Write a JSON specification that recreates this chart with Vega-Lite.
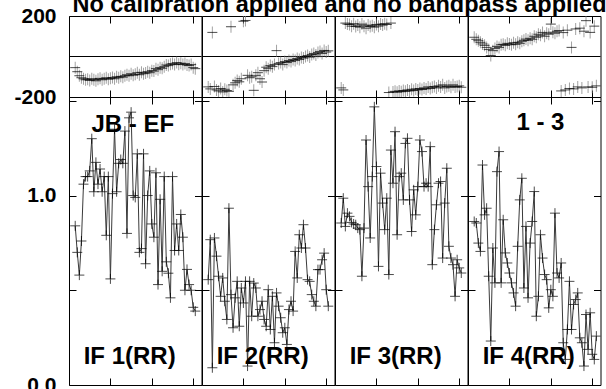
{
"$schema": "https://vega.github.io/schema/vega-lite/v6.json",
"padding": {"left": 0, "top": -7, "right": 0, "bottom": 0},
"title": {"text": "No calibration applied and no bandpass applied", "font": "Liberation Sans", "fontSize": 23.5, "fontWeight": "bold", "color": "black", "anchor": "start", "frame": "bounds", "baseline": "alphabetic", "offset": 0, "dx": 72, "dy": 31},
"config": {
  "view": {"stroke": "black", "strokeWidth": 1},
  "axis": {"grid": false, "domain": false, "labels": false, "ticks": true, "tickSize": -7, "tickColor": "black", "tickWidth": 1, "labelFont": "Liberation Sans", "labelFontSize": 21, "labelFontWeight": "bold", "labelColor": "black", "labelPadding": 20}
},
"datasets": {"vis": [
{"IF":1,"ch":3,"amp":0.84,"ph":-55},{"IF":1,"ch":4,"amp":0.70,"ph":-75},{"IF":1,"ch":5,"amp":0.58,"ph":-95},{"IF":1,"ch":6,"amp":0.76,"ph":-105},{"IF":1,"ch":7,"amp":1.06,"ph":-110},{"IF":1,"ch":8,"amp":1.10,"ph":-115},{"IF":1,"ch":9,"amp":1.10,"ph":-112},{"IF":1,"ch":10,"amp":1.13,"ph":-118},{"IF":1,"ch":11,"amp":1.30,"ph":-110},{"IF":1,"ch":12,"amp":1.02,"ph":-115},{"IF":1,"ch":13,"amp":1.175,"ph":-120},{"IF":1,"ch":14,"amp":1.06,"ph":-112},{"IF":1,"ch":15,"amp":1.14,"ph":-108},{"IF":1,"ch":16,"amp":1.02,"ph":-115},{"IF":1,"ch":17,"amp":1.10,"ph":-110},{"IF":1,"ch":18,"amp":0.79,"ph":-105},{"IF":1,"ch":19,"amp":1.10,"ph":-112},{"IF":1,"ch":20,"amp":0.56,"ph":-108},{"IF":1,"ch":21,"amp":1.01,"ph":-104},{"IF":1,"ch":22,"amp":1.35,"ph":-110},{"IF":1,"ch":23,"amp":1.02,"ph":-100},{"IF":1,"ch":24,"amp":1.17,"ph":-105},{"IF":1,"ch":25,"amp":1.19,"ph":-98},{"IF":1,"ch":26,"amp":1.17,"ph":-102},{"IF":1,"ch":27,"amp":1.34,"ph":-95},{"IF":1,"ch":28,"amp":0.80,"ph":-90},{"IF":1,"ch":29,"amp":1.41,"ph":-95},{"IF":1,"ch":30,"amp":1.44,"ph":-85},{"IF":1,"ch":31,"amp":1.00,"ph":-92},{"IF":1,"ch":32,"amp":0.99,"ph":-88},{"IF":1,"ch":33,"amp":1.22,"ph":-80},{"IF":1,"ch":34,"amp":0.70,"ph":-90},{"IF":1,"ch":35,"amp":0.72,"ph":-78},{"IF":1,"ch":36,"amp":1.22,"ph":-85},{"IF":1,"ch":37,"amp":0.64,"ph":-82},{"IF":1,"ch":38,"amp":1.00,"ph":-75},{"IF":1,"ch":39,"amp":1.13,"ph":-80},{"IF":1,"ch":40,"amp":0.85,"ph":-70},{"IF":1,"ch":41,"amp":0.78,"ph":-72},{"IF":1,"ch":42,"amp":1.12,"ph":-60},{"IF":1,"ch":43,"amp":0.53,"ph":-65},{"IF":1,"ch":44,"amp":0.98,"ph":-55},{"IF":1,"ch":45,"amp":0.60,"ph":-58},{"IF":1,"ch":46,"amp":1.10,"ph":-50},{"IF":1,"ch":47,"amp":0.65,"ph":-42},{"IF":1,"ch":48,"amp":0.59,"ph":-45},{"IF":1,"ch":49,"amp":0.46,"ph":-38},{"IF":1,"ch":50,"amp":1.10,"ph":-35},{"IF":1,"ch":51,"amp":0.71,"ph":-40},{"IF":1,"ch":52,"amp":0.85,"ph":-30},{"IF":1,"ch":53,"amp":0.71,"ph":-38},{"IF":1,"ch":54,"amp":0.90,"ph":-33},{"IF":1,"ch":55,"amp":0.78,"ph":-40},{"IF":1,"ch":56,"amp":0.50,"ph":-35},{"IF":1,"ch":57,"amp":0.61,"ph":-42},{"IF":1,"ch":58,"amp":0.53,"ph":-45},{"IF":1,"ch":59,"amp":0.50,"ph":-40},{"IF":1,"ch":60,"amp":0.41,"ph":-55},{"IF":1,"ch":61,"amp":0.39,"ph":-60},
{"IF":2,"ch":3,"amp":0.556,"ph":-150},{"IF":2,"ch":4,"amp":0.767,"ph":-160},{"IF":2,"ch":5,"amp":0.091,"ph":119},{"IF":2,"ch":6,"amp":0.776,"ph":-148},{"IF":2,"ch":7,"amp":0.68,"ph":-165},{"IF":2,"ch":8,"amp":0.574,"ph":-170},{"IF":2,"ch":9,"amp":0.468,"ph":-158},{"IF":2,"ch":10,"amp":0.565,"ph":-175},{"IF":2,"ch":11,"amp":0.442,"ph":-162},{"IF":2,"ch":12,"amp":0.346,"ph":-168},{"IF":2,"ch":13,"amp":0.933,"ph":-172},{"IF":2,"ch":14,"amp":0.477,"ph":147},{"IF":2,"ch":15,"amp":0.302,"ph":-140},{"IF":2,"ch":16,"amp":0.46,"ph":-130},{"IF":2,"ch":17,"amp":0.547,"ph":-119},{"IF":2,"ch":18,"amp":0.31,"ph":-125},{"IF":2,"ch":19,"amp":0.512,"ph":-110},{"IF":2,"ch":20,"amp":0.433,"ph":174},{"IF":2,"ch":21,"amp":0.547,"ph":178},{"IF":2,"ch":22,"amp":0.10,"ph":-93},{"IF":2,"ch":23,"amp":0.547,"ph":-105},{"IF":2,"ch":24,"amp":0.363,"ph":-100},{"IF":2,"ch":25,"amp":0.538,"ph":-167},{"IF":2,"ch":26,"amp":0.512,"ph":-93},{"IF":2,"ch":27,"amp":0.363,"ph":-80},{"IF":2,"ch":28,"amp":0.398,"ph":-110},{"IF":2,"ch":29,"amp":0.442,"ph":-126},{"IF":2,"ch":30,"amp":0.346,"ph":-70},{"IF":2,"ch":31,"amp":0.31,"ph":-53},{"IF":2,"ch":32,"amp":0.503,"ph":-60},{"IF":2,"ch":33,"amp":0.293,"ph":-45},{"IF":2,"ch":34,"amp":0.468,"ph":-50},{"IF":2,"ch":35,"amp":0.223,"ph":-40},{"IF":2,"ch":36,"amp":0.486,"ph":29},{"IF":2,"ch":37,"amp":0.416,"ph":-35},{"IF":2,"ch":38,"amp":0.355,"ph":-30},{"IF":2,"ch":39,"amp":0.276,"ph":-40},{"IF":2,"ch":40,"amp":0.302,"ph":-25},{"IF":2,"ch":41,"amp":0.214,"ph":-30},{"IF":2,"ch":42,"amp":0.398,"ph":-20},{"IF":2,"ch":43,"amp":0.442,"ph":-25},{"IF":2,"ch":44,"amp":0.39,"ph":-15},{"IF":2,"ch":45,"amp":0.705,"ph":-20},{"IF":2,"ch":46,"amp":0.565,"ph":-10},{"IF":2,"ch":47,"amp":0.793,"ph":-15},{"IF":2,"ch":48,"amp":0.723,"ph":-5},{"IF":2,"ch":49,"amp":0.846,"ph":-8},{"IF":2,"ch":50,"amp":0.723,"ph":0},{"IF":2,"ch":51,"amp":0.556,"ph":5},{"IF":2,"ch":52,"amp":0.547,"ph":-3},{"IF":2,"ch":53,"amp":0.477,"ph":10},{"IF":2,"ch":54,"amp":0.442,"ph":15},{"IF":2,"ch":55,"amp":0.416,"ph":8},{"IF":2,"ch":56,"amp":0.609,"ph":20},{"IF":2,"ch":57,"amp":0.609,"ph":25},{"IF":2,"ch":58,"amp":0.661,"ph":15},{"IF":2,"ch":59,"amp":0.696,"ph":30},{"IF":2,"ch":60,"amp":0.503,"ph":22},{"IF":2,"ch":61,"amp":0.416,"ph":28},
{"IF":3,"ch":3,"amp":0.855,"ph":-155},{"IF":3,"ch":4,"amp":0.986,"ph":-165},{"IF":3,"ch":5,"amp":0.837,"ph":165},{"IF":3,"ch":6,"amp":0.907,"ph":160},{"IF":3,"ch":7,"amp":0.89,"ph":158},{"IF":3,"ch":8,"amp":0.858,"ph":150},{"IF":3,"ch":9,"amp":0.85,"ph":162},{"IF":3,"ch":10,"amp":0.846,"ph":148},{"IF":3,"ch":11,"amp":0.828,"ph":155},{"IF":3,"ch":12,"amp":0.82,"ph":145},{"IF":3,"ch":13,"amp":0.574,"ph":160},{"IF":3,"ch":14,"amp":0.828,"ph":150},{"IF":3,"ch":15,"amp":1.293,"ph":140},{"IF":3,"ch":16,"amp":1.047,"ph":155},{"IF":3,"ch":17,"amp":0.776,"ph":148},{"IF":3,"ch":18,"amp":1.10,"ph":152},{"IF":3,"ch":19,"amp":1.468,"ph":145},{"IF":3,"ch":20,"amp":1.153,"ph":158},{"IF":3,"ch":21,"amp":0.626,"ph":150},{"IF":3,"ch":22,"amp":1.118,"ph":160},{"IF":3,"ch":23,"amp":0.96,"ph":155},{"IF":3,"ch":24,"amp":0.82,"ph":162},{"IF":3,"ch":25,"amp":0.986,"ph":158},{"IF":3,"ch":26,"amp":0.583,"ph":-178},{"IF":3,"ch":27,"amp":1.24,"ph":165},{"IF":3,"ch":28,"amp":1.065,"ph":-175},{"IF":3,"ch":29,"amp":1.337,"ph":-172},{"IF":3,"ch":30,"amp":0.793,"ph":-176},{"IF":3,"ch":31,"amp":1.10,"ph":-170},{"IF":3,"ch":32,"amp":1.118,"ph":-174},{"IF":3,"ch":33,"amp":0.977,"ph":-168},{"IF":3,"ch":34,"amp":1.275,"ph":-172},{"IF":3,"ch":35,"amp":1.302,"ph":-165},{"IF":3,"ch":36,"amp":0.977,"ph":-170},{"IF":3,"ch":37,"amp":0.81,"ph":-162},{"IF":3,"ch":38,"amp":1.03,"ph":-168},{"IF":3,"ch":39,"amp":0.898,"ph":-160},{"IF":3,"ch":40,"amp":1.047,"ph":-165},{"IF":3,"ch":41,"amp":1.293,"ph":-158},{"IF":3,"ch":42,"amp":1.232,"ph":-163},{"IF":3,"ch":43,"amp":1.047,"ph":-155},{"IF":3,"ch":44,"amp":1.065,"ph":-160},{"IF":3,"ch":45,"amp":1.047,"ph":-150},{"IF":3,"ch":46,"amp":1.258,"ph":-158},{"IF":3,"ch":47,"amp":0.635,"ph":-152},{"IF":3,"ch":48,"amp":0.82,"ph":-148},{"IF":3,"ch":49,"amp":0.951,"ph":-155},{"IF":3,"ch":50,"amp":1.065,"ph":-145},{"IF":3,"ch":51,"amp":1.074,"ph":-150},{"IF":3,"ch":52,"amp":0.67,"ph":-140},{"IF":3,"ch":53,"amp":0.96,"ph":-155},{"IF":3,"ch":54,"amp":1.144,"ph":-148},{"IF":3,"ch":55,"amp":0.732,"ph":-145},{"IF":3,"ch":56,"amp":0.67,"ph":-152},{"IF":3,"ch":57,"amp":0.635,"ph":-140},{"IF":3,"ch":58,"amp":0.468,"ph":-150},{"IF":3,"ch":59,"amp":0.661,"ph":-148},{"IF":3,"ch":60,"amp":0.618,"ph":-145},{"IF":3,"ch":61,"amp":0.591,"ph":-152},
{"IF":4,"ch":3,"amp":0.863,"ph":95},{"IF":4,"ch":4,"amp":0.855,"ph":85},{"IF":4,"ch":5,"amp":0.749,"ph":78},{"IF":4,"ch":6,"amp":0.705,"ph":70},{"IF":4,"ch":7,"amp":1.161,"ph":62},{"IF":4,"ch":8,"amp":0.898,"ph":55},{"IF":4,"ch":9,"amp":0.933,"ph":45},{"IF":4,"ch":10,"amp":0.574,"ph":35},{"IF":4,"ch":11,"amp":0.232,"ph":5},{"IF":4,"ch":12,"amp":0.723,"ph":29},{"IF":4,"ch":13,"amp":0.539,"ph":40},{"IF":4,"ch":14,"amp":1.126,"ph":50},{"IF":4,"ch":15,"amp":1.232,"ph":45},{"IF":4,"ch":16,"amp":0.539,"ph":58},{"IF":4,"ch":17,"amp":0.872,"ph":60},{"IF":4,"ch":18,"amp":0.697,"ph":55},{"IF":4,"ch":19,"amp":0.644,"ph":65},{"IF":4,"ch":20,"amp":0.591,"ph":62},{"IF":4,"ch":21,"amp":0.539,"ph":58},{"IF":4,"ch":22,"amp":0.486,"ph":68},{"IF":4,"ch":23,"amp":0.416,"ph":60},{"IF":4,"ch":24,"amp":0.732,"ph":70},{"IF":4,"ch":25,"amp":0.977,"ph":65},{"IF":4,"ch":26,"amp":1.091,"ph":75},{"IF":4,"ch":27,"amp":0.512,"ph":80},{"IF":4,"ch":28,"amp":0.837,"ph":86},{"IF":4,"ch":29,"amp":0.46,"ph":80},{"IF":4,"ch":30,"amp":0.749,"ph":90},{"IF":4,"ch":31,"amp":0.863,"ph":85},{"IF":4,"ch":32,"amp":1.021,"ph":100},{"IF":4,"ch":33,"amp":0.363,"ph":95},{"IF":4,"ch":34,"amp":0.468,"ph":110},{"IF":4,"ch":35,"amp":0.793,"ph":105},{"IF":4,"ch":36,"amp":0.67,"ph":119},{"IF":4,"ch":37,"amp":0.583,"ph":100},{"IF":4,"ch":38,"amp":0.556,"ph":115},{"IF":4,"ch":39,"amp":0.407,"ph":110},{"IF":4,"ch":40,"amp":0.503,"ph":160},{"IF":4,"ch":41,"amp":0.468,"ph":120},{"IF":4,"ch":42,"amp":0.907,"ph":115},{"IF":4,"ch":43,"amp":0.591,"ph":125},{"IF":4,"ch":44,"amp":0.565,"ph":128},{"IF":4,"ch":45,"amp":0.644,"ph":-170},{"IF":4,"ch":46,"amp":0.223,"ph":118},{"IF":4,"ch":47,"amp":0.135,"ph":-165},{"IF":4,"ch":48,"amp":0.293,"ph":130},{"IF":4,"ch":49,"amp":0.547,"ph":-158},{"IF":4,"ch":50,"amp":0.293,"ph":45},{"IF":4,"ch":51,"amp":0.425,"ph":-160},{"IF":4,"ch":52,"amp":0.451,"ph":136},{"IF":4,"ch":53,"amp":0.486,"ph":-150},{"IF":4,"ch":54,"amp":0.249,"ph":140},{"IF":4,"ch":55,"amp":0.223,"ph":-155},{"IF":4,"ch":56,"amp":0.10,"ph":125},{"IF":4,"ch":57,"amp":0.372,"ph":177},{"IF":4,"ch":58,"amp":0.188,"ph":-150},{"IF":4,"ch":59,"amp":0.381,"ph":119},{"IF":4,"ch":60,"amp":0.162,"ph":-152},{"IF":4,"ch":61,"amp":0.135,"ph":150},{"IF":4,"ch":62,"amp":0.258,"ph":-145}
]},
"bounds": "flush",
"spacing": 0,
"columns": 4,
"concat": [
 {"width": 132.5, "height": 81, "data": {"name": "vis"}, "transform": [{"filter": "datum.IF == 1"}],
  "layer": [
   {"data": {"values": [{}]}, "mark": {"type": "rule", "color": "black", "strokeWidth": 1}, "encoding": {"y": {"datum": 0, "type": "quantitative", "scale": {"domain": [-200, 200], "nice": false}, "axis": null}}},
   {"mark": {"type": "tick", "orient": "vertical", "color": "#7a7a7a", "size": 12, "thickness": 1, "clip": true}, "encoding": {"x": {"field": "ch", "type": "quantitative", "scale": {"domain": [0, 64], "nice": false}, "axis": {"orient": "bottom", "values": [20, 40, 60], "title": null}}, "y": {"field": "ph", "type": "quantitative", "scale": {"domain": [-200, 200], "nice": false}, "axis": {"orient": "left", "values": [-200, 200], "labels": true, "labelExpr": "datum.value > 0 ? '200' : '-200'", "title": null, "minExtent": 68, "maxExtent": 68}}}},
   {"mark": {"type": "point", "shape": "M-1,0L1,0", "size": 100, "color": "black", "strokeWidth": 1, "filled": false, "clip": true}, "encoding": {"x": {"field": "ch", "type": "quantitative", "axis": {"orient": "top", "values": [20, 40, 60], "title": null}}, "y": {"field": "ph", "type": "quantitative", "axis": {"orient": "right", "values": [-200, 200], "title": null}}}}
  ],
  "resolve": {"axis": {"x": "independent", "y": "independent"}}},
 {"width": 132.5, "height": 81, "data": {"name": "vis"}, "transform": [{"filter": "datum.IF == 2"}],
  "layer": [
   {"data": {"values": [{}]}, "mark": {"type": "rule", "color": "black", "strokeWidth": 1}, "encoding": {"y": {"datum": 0, "type": "quantitative", "scale": {"domain": [-200, 200], "nice": false}, "axis": null}}},
   {"mark": {"type": "tick", "orient": "vertical", "color": "#7a7a7a", "size": 12, "thickness": 1, "clip": true}, "encoding": {"x": {"field": "ch", "type": "quantitative", "scale": {"domain": [0, 64], "nice": false}, "axis": {"orient": "bottom", "values": [20, 40, 60], "title": null}}, "y": {"field": "ph", "type": "quantitative", "scale": {"domain": [-200, 200], "nice": false}, "axis": {"orient": "left", "values": [-200, 200], "title": null}}}},
   {"mark": {"type": "point", "shape": "M-1,0L1,0", "size": 100, "color": "black", "strokeWidth": 1, "filled": false, "clip": true}, "encoding": {"x": {"field": "ch", "type": "quantitative", "axis": {"orient": "top", "values": [20, 40, 60], "title": null}}, "y": {"field": "ph", "type": "quantitative", "axis": {"orient": "right", "values": [-200, 200], "title": null}}}}
  ],
  "resolve": {"axis": {"x": "independent", "y": "independent"}}},
 {"width": 132.5, "height": 81, "data": {"name": "vis"}, "transform": [{"filter": "datum.IF == 3"}],
  "layer": [
   {"data": {"values": [{}]}, "mark": {"type": "rule", "color": "black", "strokeWidth": 1}, "encoding": {"y": {"datum": 0, "type": "quantitative", "scale": {"domain": [-200, 200], "nice": false}, "axis": null}}},
   {"mark": {"type": "tick", "orient": "vertical", "color": "#7a7a7a", "size": 12, "thickness": 1, "clip": true}, "encoding": {"x": {"field": "ch", "type": "quantitative", "scale": {"domain": [0, 64], "nice": false}, "axis": {"orient": "bottom", "values": [20, 40, 60], "title": null}}, "y": {"field": "ph", "type": "quantitative", "scale": {"domain": [-200, 200], "nice": false}, "axis": {"orient": "left", "values": [-200, 200], "title": null}}}},
   {"mark": {"type": "point", "shape": "M-1,0L1,0", "size": 100, "color": "black", "strokeWidth": 1, "filled": false, "clip": true}, "encoding": {"x": {"field": "ch", "type": "quantitative", "axis": {"orient": "top", "values": [20, 40, 60], "title": null}}, "y": {"field": "ph", "type": "quantitative", "axis": {"orient": "right", "values": [-200, 200], "title": null}}}}
  ],
  "resolve": {"axis": {"x": "independent", "y": "independent"}}},
 {"width": 132.5, "height": 81, "data": {"name": "vis"}, "transform": [{"filter": "datum.IF == 4"}],
  "layer": [
   {"data": {"values": [{}]}, "mark": {"type": "rule", "color": "black", "strokeWidth": 1}, "encoding": {"y": {"datum": 0, "type": "quantitative", "scale": {"domain": [-200, 200], "nice": false}, "axis": null}}},
   {"mark": {"type": "tick", "orient": "vertical", "color": "#7a7a7a", "size": 12, "thickness": 1, "clip": true}, "encoding": {"x": {"field": "ch", "type": "quantitative", "scale": {"domain": [0, 64], "nice": false}, "axis": {"orient": "bottom", "values": [20, 40, 60], "title": null}}, "y": {"field": "ph", "type": "quantitative", "scale": {"domain": [-200, 200], "nice": false}, "axis": {"orient": "left", "values": [-200, 200], "title": null}}}},
   {"mark": {"type": "point", "shape": "M-1,0L1,0", "size": 100, "color": "black", "strokeWidth": 1, "filled": false, "clip": true}, "encoding": {"x": {"field": "ch", "type": "quantitative", "axis": {"orient": "top", "values": [20, 40, 60], "title": null}}, "y": {"field": "ph", "type": "quantitative", "axis": {"orient": "right", "values": [-200, 200], "title": null}}}}
  ],
  "resolve": {"axis": {"x": "independent", "y": "independent"}}},
 {"width": 132.5, "height": 288, "data": {"name": "vis"}, "transform": [{"filter": "datum.IF == 1"}],
  "layer": [
   {"mark": {"type": "line", "color": "#3a3a3a", "strokeWidth": 1, "clip": true}, "encoding": {"x": {"field": "ch", "type": "quantitative", "scale": {"domain": [0, 64], "nice": false}, "axis": {"orient": "bottom", "values": [20, 40, 60], "title": null}}, "y": {"field": "amp", "type": "quantitative", "scale": {"domain": [0, 1.52], "nice": false}, "axis": {"orient": "left", "values": [0, 0.5, 1, 1.5], "labels": true, "labelExpr": "datum.value == 0 || datum.value == 1 ? format(datum.value, '.1f') : ''", "title": null, "minExtent": 68, "maxExtent": 68}}}},
   {"mark": {"type": "point", "shape": "M-1,0L1,0M0,-1L0,1", "size": 100, "color": "black", "strokeWidth": 1, "filled": false, "clip": true}, "encoding": {"x": {"field": "ch", "type": "quantitative", "axis": {"orient": "top", "values": [20, 40, 60], "title": null}}, "y": {"field": "amp", "type": "quantitative", "axis": {"orient": "right", "values": [0, 0.5, 1, 1.5], "title": null}}}},
   {"data": {"values": [{"t": "JB - EF"}]}, "mark": {"type": "text", "font": "Liberation Sans", "fontSize": 24, "fontWeight": "bold", "color": "black", "align": "center", "baseline": "alphabetic"}, "encoding": {"x": {"datum": 30.8, "type": "quantitative", "axis": null}, "y": {"datum": 1.337, "type": "quantitative", "axis": null}, "text": {"field": "t"}}},
   {"data": {"values": [{"t": "IF 1(RR)"}]}, "mark": {"type": "text", "font": "Liberation Sans", "fontSize": 24, "fontWeight": "bold", "color": "black", "align": "center", "baseline": "alphabetic"}, "encoding": {"x": {"datum": 29.3, "type": "quantitative", "axis": null}, "y": {"datum": 0.11, "type": "quantitative", "axis": null}, "text": {"field": "t"}}}
  ],
  "resolve": {"axis": {"x": "independent", "y": "independent"}}},
 {"width": 132.5, "height": 288, "data": {"name": "vis"}, "transform": [{"filter": "datum.IF == 2"}],
  "layer": [
   {"mark": {"type": "line", "color": "#3a3a3a", "strokeWidth": 1, "clip": true}, "encoding": {"x": {"field": "ch", "type": "quantitative", "scale": {"domain": [0, 64], "nice": false}, "axis": {"orient": "bottom", "values": [20, 40, 60], "title": null}}, "y": {"field": "amp", "type": "quantitative", "scale": {"domain": [0, 1.52], "nice": false}, "axis": {"orient": "left", "values": [0, 0.5, 1, 1.5], "title": null}}}},
   {"mark": {"type": "point", "shape": "M-1,0L1,0M0,-1L0,1", "size": 100, "color": "black", "strokeWidth": 1, "filled": false, "clip": true}, "encoding": {"x": {"field": "ch", "type": "quantitative", "axis": {"orient": "top", "values": [20, 40, 60], "title": null}}, "y": {"field": "amp", "type": "quantitative", "axis": {"orient": "right", "values": [0, 0.5, 1, 1.5], "title": null}}}},
   {"data": {"values": [{"t": "IF 2(RR)"}]}, "mark": {"type": "text", "font": "Liberation Sans", "fontSize": 24, "fontWeight": "bold", "color": "black", "align": "center", "baseline": "alphabetic"}, "encoding": {"x": {"datum": 29.3, "type": "quantitative", "axis": null}, "y": {"datum": 0.11, "type": "quantitative", "axis": null}, "text": {"field": "t"}}}
  ],
  "resolve": {"axis": {"x": "independent", "y": "independent"}}},
 {"width": 132.5, "height": 288, "data": {"name": "vis"}, "transform": [{"filter": "datum.IF == 3"}],
  "layer": [
   {"mark": {"type": "line", "color": "#3a3a3a", "strokeWidth": 1, "clip": true}, "encoding": {"x": {"field": "ch", "type": "quantitative", "scale": {"domain": [0, 64], "nice": false}, "axis": {"orient": "bottom", "values": [20, 40, 60], "title": null}}, "y": {"field": "amp", "type": "quantitative", "scale": {"domain": [0, 1.52], "nice": false}, "axis": {"orient": "left", "values": [0, 0.5, 1, 1.5], "title": null}}}},
   {"mark": {"type": "point", "shape": "M-1,0L1,0M0,-1L0,1", "size": 100, "color": "black", "strokeWidth": 1, "filled": false, "clip": true}, "encoding": {"x": {"field": "ch", "type": "quantitative", "axis": {"orient": "top", "values": [20, 40, 60], "title": null}}, "y": {"field": "amp", "type": "quantitative", "axis": {"orient": "right", "values": [0, 0.5, 1, 1.5], "title": null}}}},
   {"data": {"values": [{"t": "IF 3(RR)"}]}, "mark": {"type": "text", "font": "Liberation Sans", "fontSize": 24, "fontWeight": "bold", "color": "black", "align": "center", "baseline": "alphabetic"}, "encoding": {"x": {"datum": 29.3, "type": "quantitative", "axis": null}, "y": {"datum": 0.11, "type": "quantitative", "axis": null}, "text": {"field": "t"}}}
  ],
  "resolve": {"axis": {"x": "independent", "y": "independent"}}},
 {"width": 132.5, "height": 288, "data": {"name": "vis"}, "transform": [{"filter": "datum.IF == 4"}],
  "layer": [
   {"mark": {"type": "line", "color": "#3a3a3a", "strokeWidth": 1, "clip": true}, "encoding": {"x": {"field": "ch", "type": "quantitative", "scale": {"domain": [0, 64], "nice": false}, "axis": {"orient": "bottom", "values": [20, 40, 60], "title": null}}, "y": {"field": "amp", "type": "quantitative", "scale": {"domain": [0, 1.52], "nice": false}, "axis": {"orient": "left", "values": [0, 0.5, 1, 1.5], "title": null}}}},
   {"mark": {"type": "point", "shape": "M-1,0L1,0M0,-1L0,1", "size": 100, "color": "black", "strokeWidth": 1, "filled": false, "clip": true}, "encoding": {"x": {"field": "ch", "type": "quantitative", "axis": {"orient": "top", "values": [20, 40, 60], "title": null}}, "y": {"field": "amp", "type": "quantitative", "axis": {"orient": "right", "values": [0, 0.5, 1, 1.5], "title": null}}}},
   {"data": {"values": [{"t": "1 - 3"}]}, "mark": {"type": "text", "font": "Liberation Sans", "fontSize": 24, "fontWeight": "bold", "color": "black", "align": "center", "baseline": "alphabetic"}, "encoding": {"x": {"datum": 35, "type": "quantitative", "axis": null}, "y": {"datum": 1.347, "type": "quantitative", "axis": null}, "text": {"field": "t"}}},
   {"data": {"values": [{"t": "IF 4(RR)"}]}, "mark": {"type": "text", "font": "Liberation Sans", "fontSize": 24, "fontWeight": "bold", "color": "black", "align": "center", "baseline": "alphabetic"}, "encoding": {"x": {"datum": 29.3, "type": "quantitative", "axis": null}, "y": {"datum": 0.11, "type": "quantitative", "axis": null}, "text": {"field": "t"}}}
  ],
  "resolve": {"axis": {"x": "independent", "y": "independent"}}}
]
}
